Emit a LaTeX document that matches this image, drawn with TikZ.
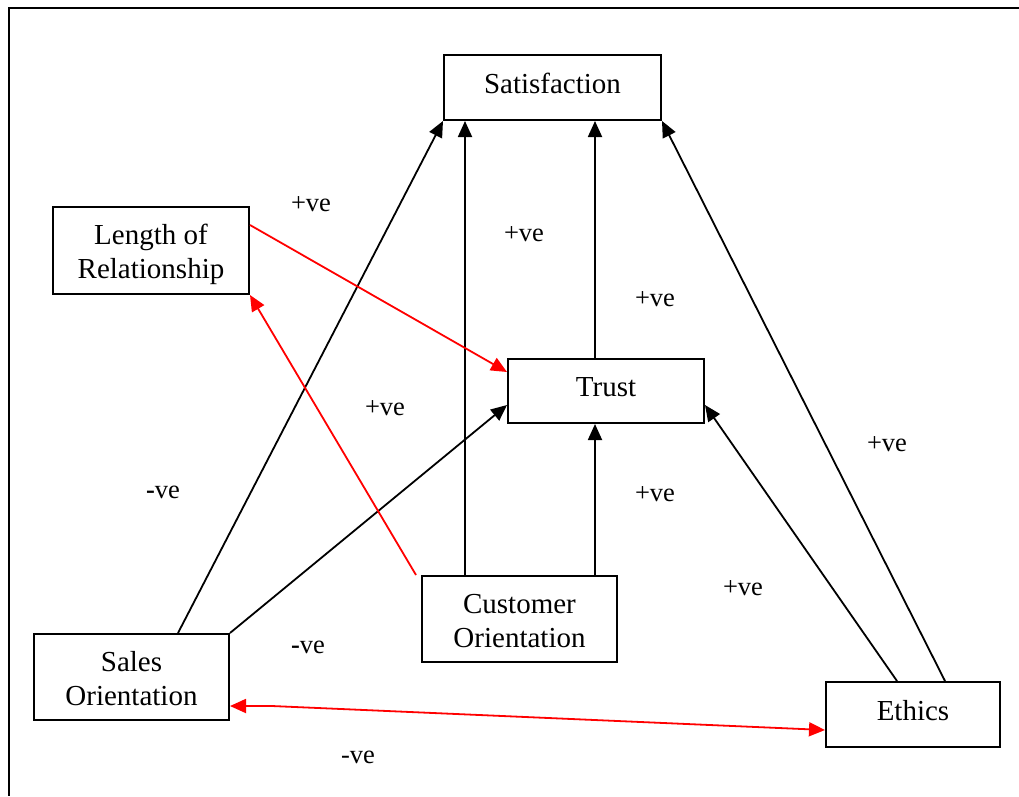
\documentclass[tikz,border=0pt]{standalone}
\usepackage{fontspec}
\setmainfont{Liberation Serif}
\usetikzlibrary{arrows.meta}
\begin{document}
\begin{tikzpicture}[x=1pt,y=-1pt,
  box/.style={draw, line width=2pt, rectangle, inner sep=0pt, align=center,
    font=\fontsize{29}{34}\selectfont},
  onebox/.style={box, text height=20pt, text depth=9pt},
  lbl/.style={font=\fontsize{26.5}{30}\selectfont, inner sep=0pt},
  link/.style={line width=1.8pt, -{Triangle[length=16pt,width=14pt]}},
  redlink/.style={link, red},
]
\useasboundingbox (0,0) rectangle (1019,796);
% outer frame (open to the right and bottom)
\draw[line width=2.5pt] (1019,8) -- (9,8) -- (9,796);

% constructs
\node[onebox, minimum width=217pt, minimum height=65pt] (sat) at (552.5,87.5) {Satisfaction};
\node[box, minimum width=196pt, minimum height=87pt] (len) at (151,250.5) {\rule{0pt}{28pt}Length of\\Relationship};
\node[onebox, minimum width=196pt, minimum height=64pt] (trust) at (606,391) {Trust};
\node[box, minimum width=195pt, minimum height=86pt] (cust) at (519.5,619) {\rule{0pt}{24pt}Customer\\Orientation};
\node[box, minimum width=195pt, minimum height=86pt] (sales) at (131.5,677) {\rule{0pt}{24pt}Sales\\Orientation};
\node[onebox, minimum width=174pt, minimum height=65pt] (eth) at (913,714.5) {Ethics};

% helper points on the box borders
\coordinate (salesN) at ([xshift=46.5pt]sales.north);
\coordinate (custNa) at ([xshift=-54.5pt]cust.north);
\coordinate (custNb) at ([xshift=75.5pt]cust.north);
\coordinate (custNW) at ([xshift=-5pt]cust.north west);
\coordinate (trustN) at ([xshift=-11pt]trust.north);
\coordinate (ethNa) at ([xshift=32pt]eth.north);
\coordinate (ethNb) at ([xshift=-16pt]eth.north);
\coordinate (lenE) at ([yshift=25.5pt]len.east);
\coordinate (trustWa) at ([yshift=19pt]trust.west);
\coordinate (trustWb) at ([yshift=-14pt]trust.west);
\coordinate (trustE) at ([yshift=-14pt]trust.east);
\coordinate (salesE) at ([yshift=-29pt]sales.east);
\coordinate (bend) at (272,706);
\coordinate (ethW) at ([yshift=-15.5pt]eth.west);

% paths into Satisfaction
\draw[link] (salesN) -- (sat.south west);
\draw[link] (custNa) -- (custNa |- sat.south);
\draw[link] (trustN) -- (trustN |- sat.south);
\draw[link] (ethNa) -- (sat.south east);

% paths into Trust
\draw[redlink] (lenE) -- (trustWa);
\draw[link] (sales.north east) -- (trustWb);
\draw[link] (custNb) -- (custNb |- trust.south);
\draw[link] (ethNb) -- (trustE);

% customer orientation to length of relationship
\draw[redlink] (custNW) -- (len.south east);

% sales orientation <-> ethics
\draw[redlink, {Triangle[length=16pt,width=14pt]}-{Triangle[length=16pt,width=14pt]}]
  (salesE) -- (bend) -- (ethW);

% path signs
\node[lbl] (l1) at (311,204) {+ve};
\node[lbl] (l2) at (524,234) {+ve};
\node[lbl] (l3) at (655,299) {+ve};
\node[lbl] (l4) at (385,408) {+ve};
\node[lbl] (l5) at (163,492) {\textbf{-}ve};
\node[lbl] (l6) at (655,494) {+ve};
\node[lbl] (l7) at (887,444) {+ve};
\node[lbl] (l8) at (743,588) {+ve};
\node[lbl] (l9) at (308,647) {\textbf{-}ve};
\node[lbl] (l10) at (358,757) {-ve};
\end{tikzpicture}
\end{document}
